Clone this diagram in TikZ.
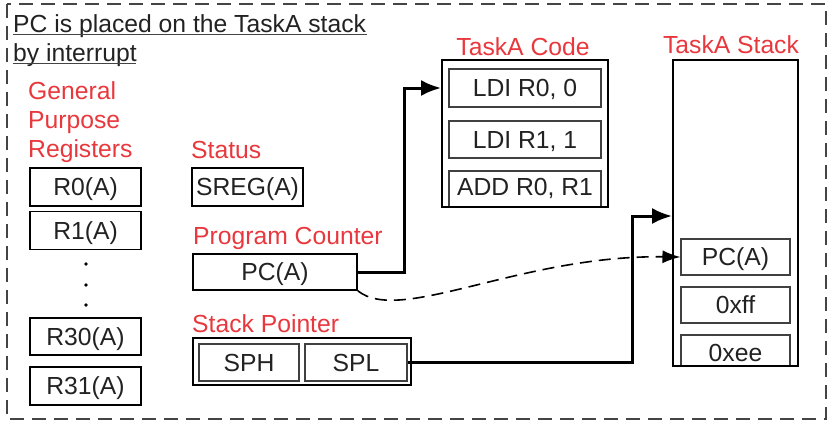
\documentclass[tikz,border=0pt]{standalone}
\usepackage{fontspec}
\setmainfont{Liberation Sans}
\usetikzlibrary{arrows.meta}
\definecolor{lblred}{HTML}{E8383D}
\definecolor{txt}{HTML}{222222}
\definecolor{frame}{HTML}{444444}
\begin{document}
\begin{tikzpicture}[x=1pt,y=-1pt,
  every node/.style={font=\fontsize{24.7}{29}\selectfont, text=txt, inner sep=0pt},
  lbl/.style={anchor=base west, text=lblred},
  clbl/.style={anchor=base, text=lblred},
  ttl/.style={anchor=base west, text=txt},
  reg/.style={draw=black, line width=1.6pt, text height=17.5pt, text depth=0pt},
  cell/.style={draw=black!75, line width=1.1pt, text height=17.5pt, text depth=0pt},
  celltext/.style={text height=17.5pt, text depth=0pt},
  cellline/.style={draw=black!75, line width=1.1pt},
  big/.style={draw=black, line width=1.8pt},
  thickarrow/.style={line width=3pt, -{Latex[length=20pt,width=16pt]}},
  dasharrow/.style={line width=1.6pt, dash pattern=on 12pt off 7pt, -{Latex[length=18pt,width=13pt]}},
  outer/.style={draw=frame, line width=1.5pt, dash pattern=on 14pt off 8pt}
]
\useasboundingbox (0,0) rectangle (834,424);
\draw[outer] (7,4) rectangle (826,419);

% title
\node[ttl] (t1) at (13,32) {PC is placed on the TaskA stack};
\node[ttl] (t2) at (13,61) {by interrupt};
\draw[frame, line width=1pt] (13,34.5) -- (367,34.5);
\draw[frame, line width=1pt] (13,63.5) -- (136,63.5);

% general purpose registers
\node[lbl] (g1) at (28,99) {General};
\node[lbl] (g2) at (28,128) {Purpose};
\node[lbl] (g3) at (28,157) {Registers};
\node[reg, minimum width=111pt, minimum height=38pt] (r0) at (85.5,187) {R0(A)};
\node[reg, minimum width=111pt, minimum height=38pt] (r1) at (85.5,230.5) {R1(A)};
\node[reg, minimum width=111pt, minimum height=37pt] (r30) at (85.5,336.5) {R30(A)};
\node[reg, minimum width=111pt, minimum height=38pt] (r31) at (85.5,386) {R31(A)};
\fill[black] (86,264) circle (1.8pt) (86,285) circle (1.8pt) (86,305) circle (1.8pt);

% status
\node[lbl] (st) at (191,158) {Status};
\node[reg, minimum width=111pt, minimum height=38pt] (sreg) at (247.5,187) {SREG(A)};

% program counter
\node[lbl] (pcl) at (193,244) {Program Counter};
\node[reg, minimum width=164pt, minimum height=36pt] (pc) at (275,272) {PC(A)};

% stack pointer
\node[lbl] (spl) at (192,332) {Stack Pointer};
\node[reg, minimum width=218pt, minimum height=47pt] (sp) at (302,361.5) {};
\node[cell, minimum width=100pt, minimum height=37pt] (sph) at (249,362.5) {SPH};
\node[cell, minimum width=102pt, minimum height=37pt] (splo) at (356,362.5) {SPL};

% TaskA code
\node[clbl] (codel) at (523,55) {TaskA Code};
\node[big, minimum width=166pt, minimum height=147pt] (code) at (525,133.5) {};
\node[cell, minimum width=152pt, minimum height=38pt] (ldi0) at (525,88) {LDI R0, 0};
\node[cell, minimum width=152pt, minimum height=37pt] (ldi1) at (525,139.5) {LDI R1, 1};
\node[celltext] (add) at (525,187) {ADD R0, R1};
\draw[cellline] (449,206) |- (601,171) -- (601,206);

% TaskA stack
\node[clbl] (stackl) at (731,53) {TaskA Stack};
\node[big, minimum width=125pt, minimum height=306pt] (stack) at (735.5,213) {};
\node[cell, minimum width=109pt, minimum height=36pt] (spc) at (735.5,257) {PC(A)};
\node[cell, minimum width=109pt, minimum height=36pt] (sff) at (735.5,305) {0xff};
\node[celltext] (see) at (735.5,352.5) {0xee};
\draw[cellline] (681,365) |- (790,335) -- (790,365);

% connectors
\draw[thickarrow] (pc.east) -- ++(47,0) |- (code.west |- ldi0.west);
\draw[thickarrow] (splo.east) -- ++(225,0) |- ([yshift=-3pt]stack.west);
\draw[dasharrow] (pc.south east) .. controls (400,325) and (520,255) .. (spc.west);
\end{tikzpicture}
\end{document}
